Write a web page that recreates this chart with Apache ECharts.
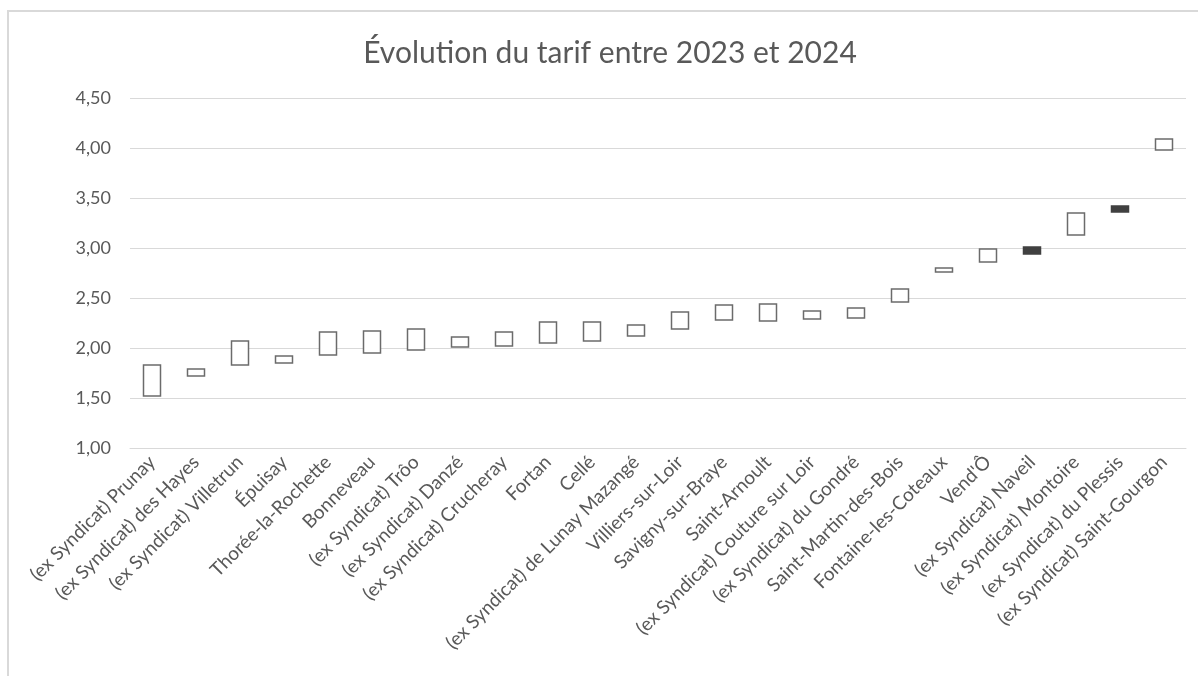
<!DOCTYPE html>
<html>
<head>
<meta charset="utf-8">
<title>Évolution du tarif</title>
<script src="https://cdn.jsdelivr.net/npm/echarts@6/dist/echarts.min.js"></script>
<style>
  html, body { margin: 0; padding: 0; background: #fff; }
  #chart { width: 1198px; height: 676px; }
</style>
</head>
<body>
<div id="chart"></div>
<script>
// communes / anciens syndicats, triés par tarif
var communes = [
  '(ex Syndicat) Prunay', '(ex Syndicat) des Hayes', '(ex Syndicat) Villetrun', 'Épuisay',
  'Thorée-la-Rochette', 'Bonneveau', '(ex Syndicat) Trôo', '(ex Syndicat) Danzé',
  '(ex Syndicat) Crucheray', 'Fortan', 'Cellé', '(ex Syndicat) de Lunay Mazangé',
  'Villiers-sur-Loir', 'Savigny-sur-Braye', 'Saint-Arnoult', '(ex Syndicat) Couture sur Loir',
  '(ex Syndicat) du Gondré', 'Saint-Martin-des-Bois', 'Fontaine-les-Coteaux', "Vend'Ô",
  '(ex Syndicat) Naveil', '(ex Syndicat) Montoire', '(ex Syndicat) du Plessis', '(ex Syndicat) Saint-Gourgon'
]
var tarif2023 = [1.52, 1.72, 1.83, 1.85, 1.93, 1.95, 1.98, 2.01, 2.02, 2.05, 2.07, 2.12,
  2.19, 2.28, 2.27, 2.29, 2.30, 2.46, 2.76, 2.86, 3.01, 3.13, 3.42, 3.98]
var tarif2024 = [1.83, 1.79, 2.07, 1.92, 2.16, 2.17, 2.19, 2.11, 2.16, 2.26, 2.26, 2.23,
  2.36, 2.43, 2.44, 2.37, 2.40, 2.59, 2.80, 2.99, 2.94, 3.35, 3.36, 4.09]
var yTicks = [1, 1.5, 2, 2.5, 3, 3.5, 4, 4.5]

var grey = '#595959'

// [ouverture, clôture, bas, haut] -> pas de mèche
var boxes = []
for (let i = 0; i < communes.length; i++) {
  const a = tarif2023[i]
  const b = tarif2024[i]
  boxes.push([a, b, Math.min(a, b), Math.max(a, b)])
}

var chart = echarts.init(document.getElementById('chart'))
chart.setOption({
  animation: false,
  textStyle: { fontFamily: 'Lato' },
  title: {
    text: 'Évolution du tarif entre 2023 et 2024',
    left: 605,
    textAlign: 'center',
    top: 33,
    textStyle: { color: grey, fontSize: 30, fontWeight: 'normal', fontFamily: 'Lato' }
  },
  graphic: [{
    type: 'rect',
    shape: { x: 8, y: 11, width: 1400, height: 900 },
    style: { fill: 'none', stroke: '#d9d9d9', lineWidth: 2 },
    silent: true
  }],
  grid: { left: 130, right: 12, top: 98, bottom: 228 },
  xAxis: {
    type: 'category',
    data: communes,
    axisLine: { lineStyle: { color: '#d9d9d9' } },
    axisTick: { show: false },
    axisLabel: { interval: 0, rotate: 45, color: grey, fontSize: 19, margin: 11 }
  },
  yAxis: {
    type: 'value',
    min: yTicks[0],
    max: yTicks[yTicks.length - 1],
    interval: 0.5,
    axisLine: { show: false },
    axisTick: { show: false },
    splitLine: { lineStyle: { color: '#d9d9d9' } },
    axisLabel: {
      color: grey,
      fontSize: 18,
      margin: 19,
      formatter: function (v) { return v.toFixed(2).replace('.', ',') }
    }
  },
  series: [{
    type: 'candlestick',
    data: boxes,
    barWidth: 18,
    itemStyle: {
      color: '#ffffff',
      color0: '#404040',
      borderColor: '#6b6b6b',
      borderColor0: '#404040',
      borderWidth: 1.5
    }
  }]
})
</script>
</body>
</html>
